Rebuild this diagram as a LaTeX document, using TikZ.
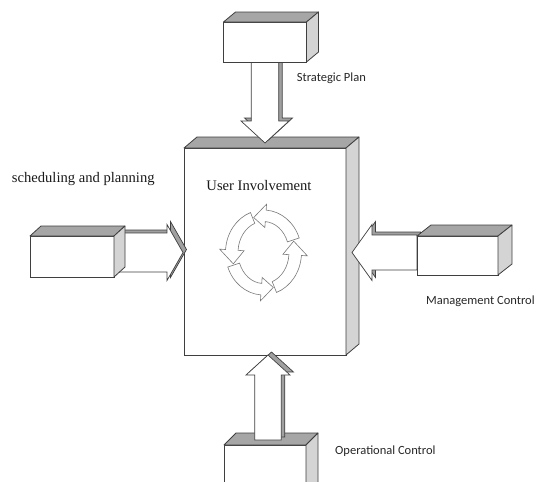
\documentclass[tikz,border=0pt]{standalone}
\usepackage{fontspec}
\setmainfont{Liberation Serif}
\newfontfamily\calfont{Carlito}
\usetikzlibrary{calc}
\definecolor{edgec}{HTML}{3F3F3F}
\definecolor{topgray}{HTML}{A6A6A6}
\definecolor{sidegray}{HTML}{D4D4D4}
\definecolor{shadegray}{HTML}{A0A0A0}
\definecolor{ringc}{HTML}{7A7A7A}
\tikzset{
  frontbox/.style={rectangle, draw=edgec, fill=white, line width=0.8pt, inner sep=0pt, outer sep=0pt},
  topface/.style={draw=edgec, fill=topgray, line width=0.8pt, line join=round},
  sideface/.style={draw=edgec, fill=sidegray, line width=0.8pt, line join=round},
  arrowfront/.style={draw=edgec, fill=white, line width=0.7pt, line join=miter},
  arrowback/.style={draw=edgec, fill=shadegray, line width=0.7pt, line join=miter},
  ringarrow/.style={draw=ringc, fill=white, line width=0.6pt, line join=miter},
  lab/.style={font=\calfont\fontsize{12.5}{14}\selectfont, text=black!85, inner sep=0pt},
  serlab/.style={font=\fontsize{14.6}{17}\selectfont, text=black!90, inner sep=0pt}
}
% faces of a cuboid: #1 node name, #2 #3 depth offset
\newcommand\cuboidfaces[3]{%
  \filldraw[topface] (#1.north west) -- ++(#2,#3) -- ([shift={(#2,#3)}]#1.north east) -- (#1.north east) -- cycle;
  \filldraw[sideface] (#1.north east) -- ++(#2,#3) -- ([shift={(#2,#3)}]#1.south east) -- (#1.south east) -- cycle;
}
% block arrow: #1 style, #2 from, #3 to, #4 shaft half width, #5 head half width, #6 head length
\newcommand\blockarrow[6]{%
  \coordinate (hb) at ($(#3)!#6pt!(#2)$);
  \filldraw[#1] ($(#2)!#4pt!-90:(#3)$) -- ($(hb)!#4pt!-90:(#3)$) -- ($(hb)!#5pt!-90:(#3)$) -- (#3)
    -- ($(hb)!#5pt!90:(#3)$) -- ($(hb)!#4pt!90:(#3)$) -- ($(#2)!#4pt!90:(#3)$) -- cycle;
}
\newcommand\shadedarrow[5]{%
  \begin{scope}[transform canvas={shift={(3.5pt,3pt)}}]
    \blockarrow{arrowback}{#1}{#2}{#3}{#4}{#5}
  \end{scope}
  \blockarrow{arrowfront}{#1}{#2}{#3}{#4}{#5}
}
\begin{document}
\begin{tikzpicture}[x=1pt,y=-1pt]
\useasboundingbox (0,0) rectangle (541,482);
\clip (0,0) rectangle (541,482);

% central box
\node[frontbox, minimum width=162pt, minimum height=207pt] (core) at (265,251.5) {};
\cuboidfaces{core}{13}{-11}

% peripheral box fronts (positions)
\node[frontbox, minimum width=83pt, minimum height=40pt, draw=none, fill=none] (sp) at (265,42) {};
\node[frontbox, minimum width=84pt, minimum height=41pt, draw=none, fill=none] (sc) at (72,256.5) {};
\node[frontbox, minimum width=81pt, minimum height=39pt, draw=none, fill=none] (mc) at (457.5,255.5) {};
\node[frontbox, minimum width=82pt, minimum height=60pt, draw=none, fill=none] (oc) at (265,475) {};

% arrow end points
\coordinate (tipT) at ([yshift=5pt]core.north);
\coordinate (tipL) at ([xshift=-1pt,yshift=-1pt]core.west);
\coordinate (tipR) at ([xshift=6pt,yshift=-1pt]core.east);
\coordinate (tipB) at ([xshift=3pt]core.south);
\coordinate (srcL) at ([yshift=4pt]sc.east);
\coordinate (srcR) at ([yshift=3pt]mc.west);
\coordinate (srcB) at ([xshift=3pt,yshift=5pt]oc.north);

% arrows that go behind their boxes
\shadedarrow{sp.south}{tipT}{13.7}{24}{22}
\shadedarrow{srcL}{tipL}{19.5}{28}{16}
\shadedarrow{srcR}{tipR}{17.5}{28}{20}

% peripheral boxes
\node[frontbox, minimum width=83pt, minimum height=40pt] at (sp) {};
\cuboidfaces{sp}{12}{-10}
\node[frontbox, minimum width=84pt, minimum height=41pt] at (sc) {};
\cuboidfaces{sc}{11}{-10}
\node[frontbox, minimum width=81pt, minimum height=39pt] at (mc) {};
\cuboidfaces{mc}{14}{-11}
\node[frontbox, minimum width=82pt, minimum height=60pt] at (oc) {};
\cuboidfaces{oc}{12}{-12}

% arrow standing on the bottom box
\shadedarrow{srcB}{tipB}{13.3}{22}{20}

% circular arrows
\begin{scope}[shift={(263.5,252.5)}, yscale=-1]
  \foreach \t in {18,108,198,288}{
    \draw[ringarrow] ({\t-88}:38 and 42.5) arc[start angle={\t-88}, end angle={\t-22}, x radius=38, y radius=42.5]
      -- ({\t-22}:44 and 48.5) -- (\t:31.75 and 36.75) -- ({\t-22}:19.5 and 25)
      -- ({\t-22}:25.5 and 31) arc[start angle={\t-22}, end angle={\t-88}, x radius=25.5, y radius=31] -- cycle;
  }
\end{scope}

% labels
\node[lab, anchor=base west] (lsp) at (296.7,81.7) {Strategic Plan};
\node[lab, anchor=base west] (lmc) at (426,304.3) {Management Control};
\node[lab, anchor=base west] (loc) at (335,454.3) {Operational Control};
\node[serlab, anchor=base west] (lsc) at (11.7,182.7) {scheduling and planning};
\node[serlab, anchor=base] (lui) at (259,190) {User Involvement};
\end{tikzpicture}
\end{document}
